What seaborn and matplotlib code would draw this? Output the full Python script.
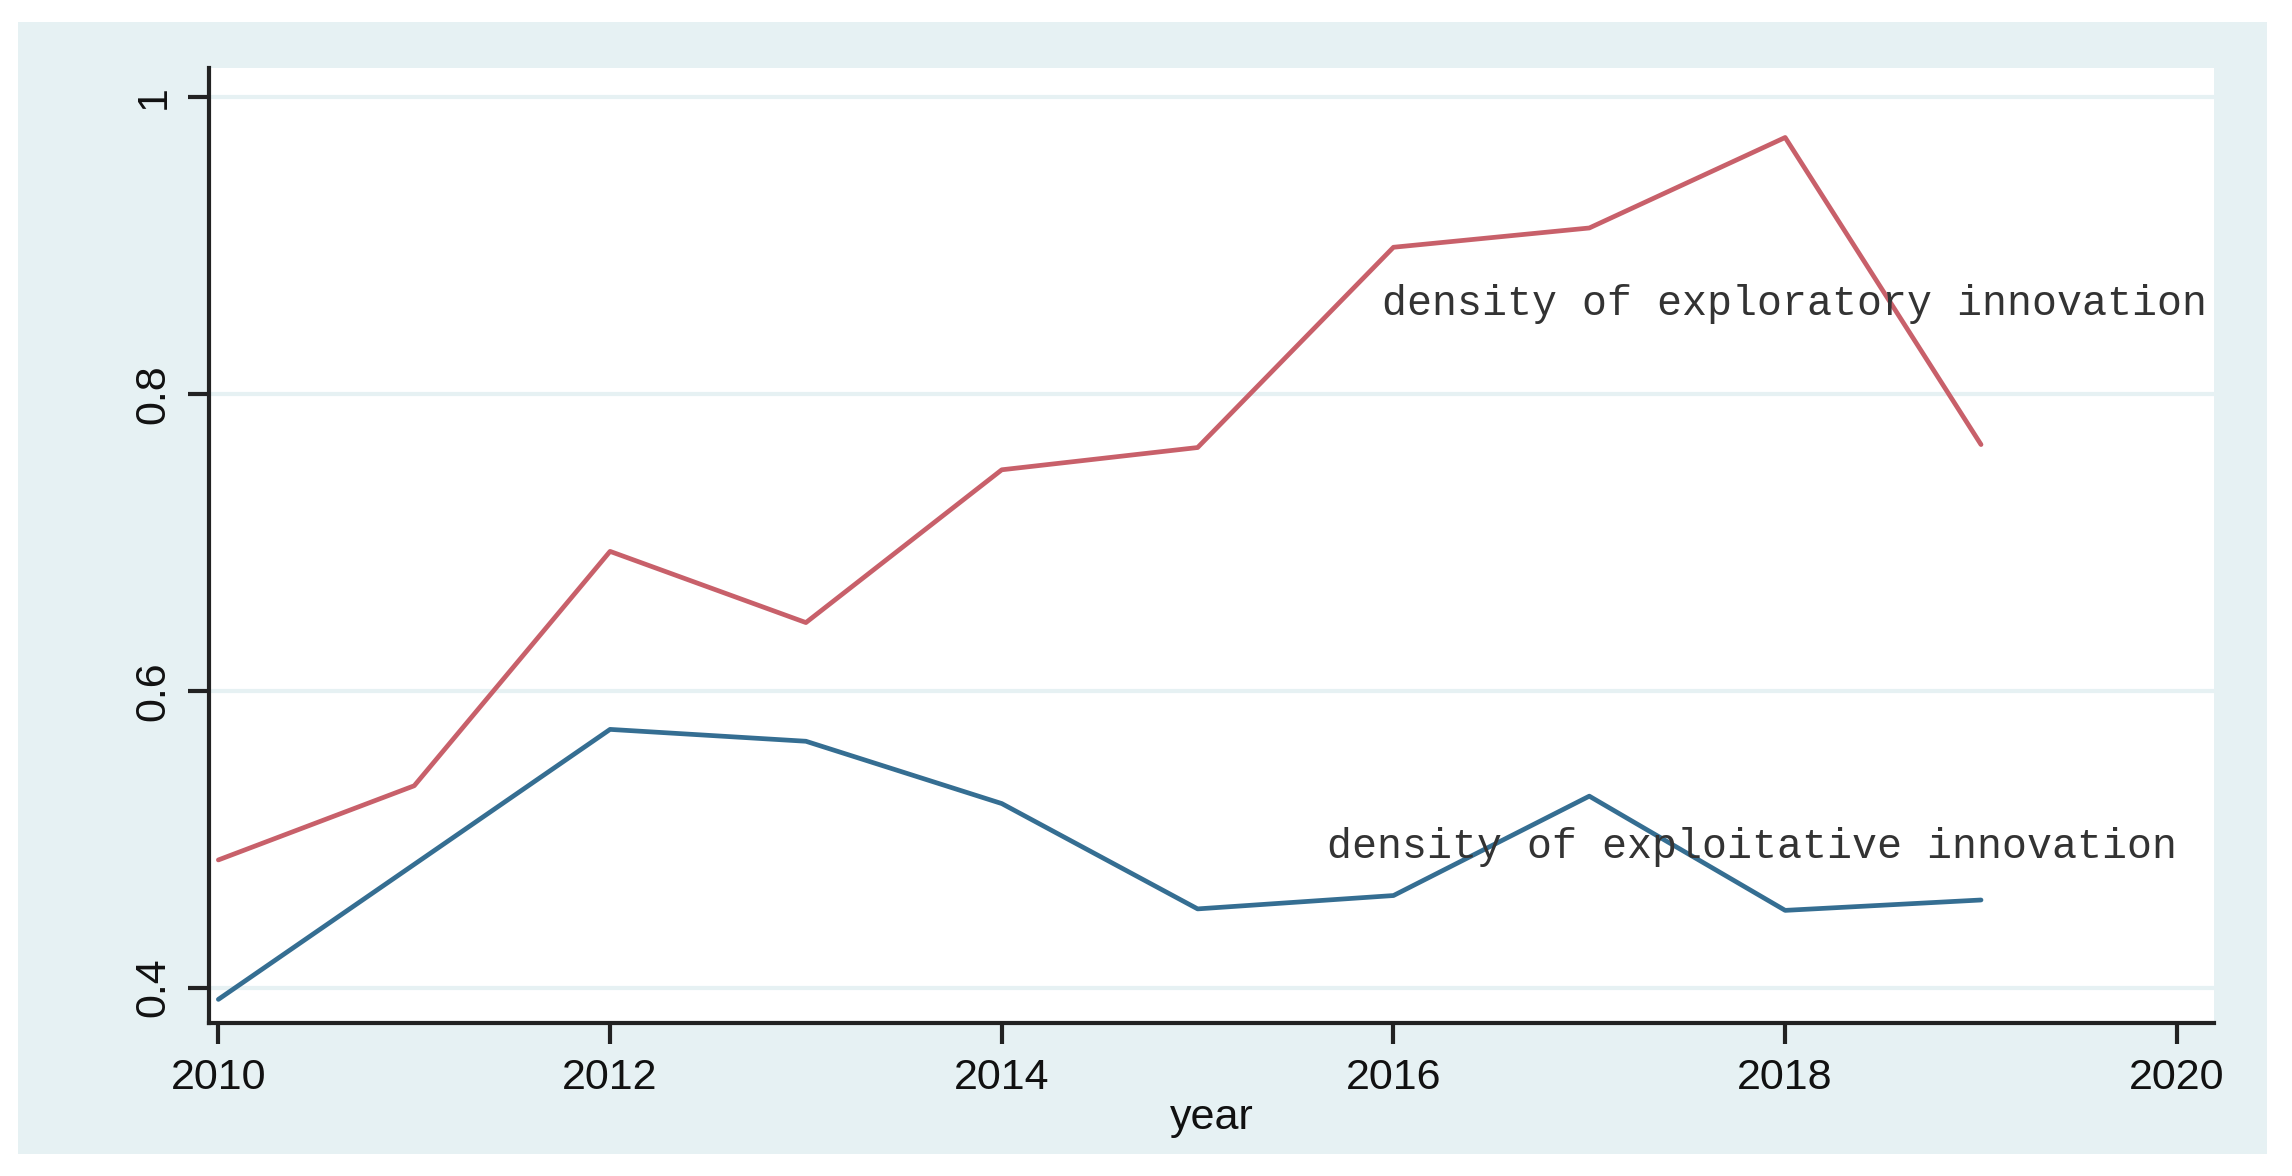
import matplotlib
matplotlib.use("Agg")
import matplotlib.pyplot as plt
import seaborn as sns
import pandas as pd
from matplotlib.patches import Rectangle

# data
years = [2010, 2011, 2012, 2013, 2014, 2015, 2016, 2017, 2018, 2019]
exploratory = [0.486, 0.536, 0.694, 0.646, 0.749, 0.764, 0.899, 0.912, 0.973, 0.766]
exploitative = [0.392, 0.483, 0.574, 0.566, 0.524, 0.453, 0.462, 0.529, 0.452, 0.459]
x_ticks = [2010, 2012, 2014, 2016, 2018, 2020]
y_ticks = [0.4, 0.6, 0.8, 1.0]
y_tick_labels = ["0.4", "0.6", "0.8", "1"]

df = pd.DataFrame({"year": years, "exploratory": exploratory, "exploitative": exploitative})

sns.set_theme(style="white")
plt.rcParams["font.family"] = ["Liberation Sans", "DejaVu Sans"]

fig = plt.figure(figsize=(22.92, 11.76), dpi=100, facecolor="white")
# stata-like light outer region
fig.patches.append(Rectangle((0.008, 0.019), 0.981, 0.962, transform=fig.transFigure,
                             facecolor="#E6F1F3", edgecolor="none", zorder=-10))

ax = fig.add_axes([0.091, 0.130, 0.875, 0.812])
ax.set_zorder(5)
ax.set_facecolor("white")

sns.lineplot(data=df, x="year", y="exploratory", ax=ax, color="#C8606A", linewidth=3.4)
sns.lineplot(data=df, x="year", y="exploitative", ax=ax, color="#356E92", linewidth=3.4)

ax.set_xlim(2009.95, 2020.19)
ax.set_ylim(0.376, 1.0197)
ax.set_xticks(x_ticks)
ax.set_yticks(y_ticks)
ax.set_yticklabels(y_tick_labels, rotation=90, va="center")
for y in y_ticks:
    ax.axhline(y, color="#E6F1F3", linewidth=3, zorder=0)

for s in ["top", "right"]:
    ax.spines[s].set_visible(False)
for s in ["left", "bottom"]:
    ax.spines[s].set_color("#222222")
    ax.spines[s].set_linewidth(3)

ax.tick_params(axis="both", direction="out", length=15, width=3, color="#222222",
               labelsize=31, pad=10, bottom=True, left=True, labelcolor="#111111")
ax.set_xlabel("year", fontsize=31, labelpad=0, color="#111111")
ax.set_ylabel("")

ax.text(2015.94, 0.861, "density of exploratory innovation", family="Liberation Mono",
        fontsize=30, va="center", ha="left", color="#333333")
ax.text(2015.66, 0.495, "density of exploitative innovation", family="Liberation Mono",
        fontsize=30, va="center", ha="left", color="#333333")

fig.savefig("out.png", dpi=100, facecolor=fig.get_facecolor())
